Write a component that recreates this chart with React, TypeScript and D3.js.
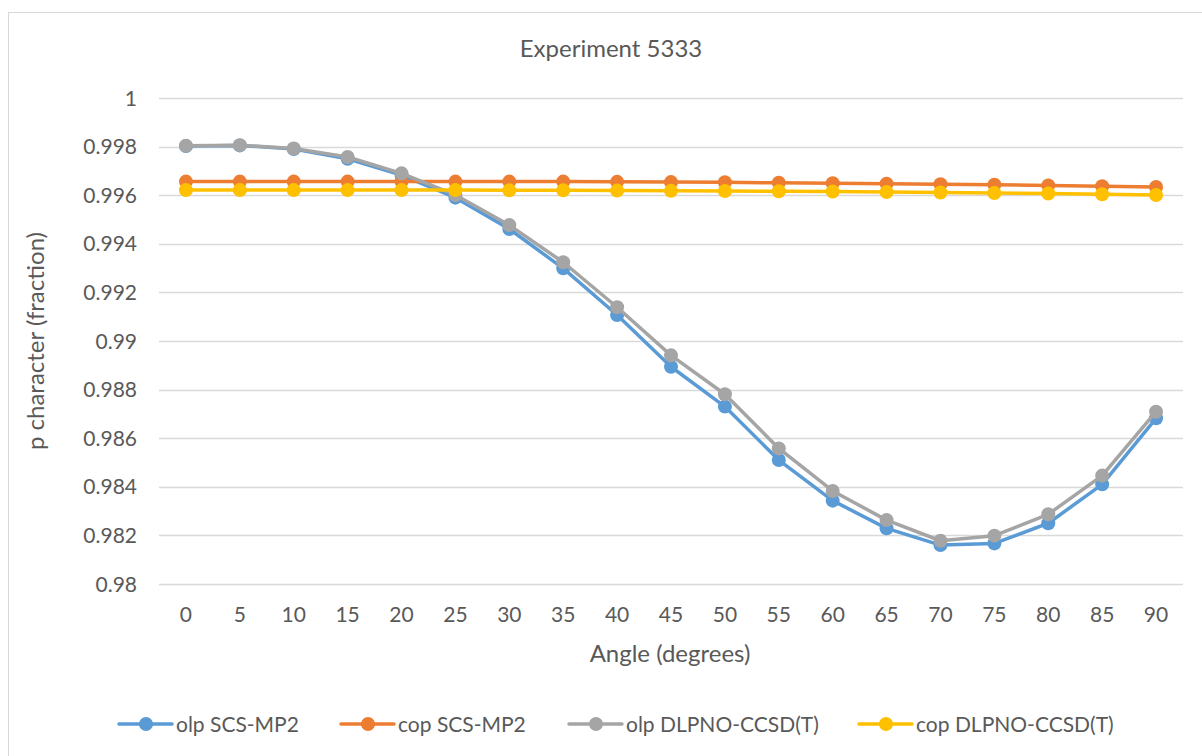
import React from "react";
import * as d3 from "d3";

const angles = [0, 5, 10, 15, 20, 25, 30, 35, 40, 45, 50, 55, 60, 65, 70, 75, 80, 85, 90];
const olpSCS = [0.99802, 0.99805, 0.9979, 0.9975, 0.99683, 0.9959, 0.99461, 0.99299, 0.99107, 0.98894, 0.9873, 0.9851, 0.98343, 0.98229, 0.9816, 0.98167, 0.9825, 0.9841, 0.98682];
const copSCS = [0.99656, 0.99656, 0.99656, 0.99656, 0.99656, 0.99656, 0.99656, 0.99656, 0.99655, 0.99654, 0.99653, 0.99651, 0.99649, 0.99647, 0.99645, 0.99643, 0.9964, 0.99637, 0.99634];
const olpDLPNO = [0.99803, 0.99806, 0.99792, 0.99757, 0.9969, 0.99601, 0.99477, 0.99324, 0.99139, 0.98941, 0.98781, 0.98558, 0.98383, 0.98263, 0.98178, 0.98199, 0.98287, 0.98446, 0.98709];
const copDLPNO = [0.99621, 0.99621, 0.99621, 0.99621, 0.99621, 0.99621, 0.9962, 0.9962, 0.99619, 0.99618, 0.99617, 0.99616, 0.99615, 0.99613, 0.99611, 0.99609, 0.99607, 0.99604, 0.99601];
const yTicks = [0.98, 0.982, 0.984, 0.986, 0.988, 0.99, 0.992, 0.994, 0.996, 0.998, 1];
const seriesNames = ["olp SCS-MP2", "cop SCS-MP2", "olp DLPNO-CCSD(T)", "cop DLPNO-CCSD(T)"];
const seriesColors = ["#5B9BD5", "#ED7D31", "#A5A5A5", "#FFC000"];
const seriesValues = [olpSCS, copSCS, olpDLPNO, copDLPNO];
const title = "Experiment 5333";
const xTitle = "Angle (degrees)";
const yTitle = "p character (fraction)";

const FONT = "Lato, 'Open Sans', sans-serif";
const TEXT = "#595959";

export default function App() {
  const left = 159, right = 1183, top = 98, bottom = 584;
  const x = d3.scaleBand<number>().domain(angles).range([left, right]);
  const cx = (a: number) => (x(a) as number) + x.bandwidth() / 2;
  const y = d3.scaleLinear().domain([0.98, 1]).range([bottom, top]);
  const line = d3.line<number>().x((_, i) => cx(angles[i])).y((v) => y(v));

  const legendX = [119, 341, 569, 859];
  const legendY = 724;

  return (
    <svg width={1202} height={756} style={{ position: "absolute", left: 0, top: 0, background: "#fff" }} fontFamily={FONT}>
      <rect x={0} y={0} width={1202} height={756} fill="#fff" />
      <rect x={8.5} y={12.5} width={1220} height={780} fill="#fff" stroke="#D9D9D9" strokeWidth={1} />
      <text x={611} y={57} textAnchor="middle" fontSize={24} fill={TEXT}>{title}</text>
      {yTicks.map((t) => (
        <g key={t}>
          <line x1={left} x2={right} y1={Math.round(y(t)) + 0.5} y2={Math.round(y(t)) + 0.5} stroke="#D9D9D9" strokeWidth={1.5} />
          <text x={137} y={y(t) + 7.5} textAnchor="end" fontSize={21} fill={TEXT}>{d3.format("~g")(t)}</text>
        </g>
      ))}
      {angles.map((a) => (
        <text key={a} x={cx(a)} y={622} textAnchor="middle" fontSize={21} fill={TEXT}>{a}</text>
      ))}
      <text x={670} y={662} textAnchor="middle" fontSize={24} fill={TEXT}>{xTitle}</text>
      <text transform={`translate(44,${(top + bottom) / 2}) rotate(-90)`} textAnchor="middle" fontSize={24} fill={TEXT}>{yTitle}</text>
      {seriesValues.map((vals, si) => (
        <g key={si}>
          <path d={line(vals) as string} fill="none" stroke={seriesColors[si]} strokeWidth={3.5} strokeLinejoin="round" strokeLinecap="round" />
          {vals.map((v, i) => (
            <circle key={i} cx={cx(angles[i])} cy={y(v)} r={7} fill={seriesColors[si]} />
          ))}
        </g>
      ))}
      {seriesNames.map((n, si) => (
        <g key={n}>
          <line x1={legendX[si]} x2={legendX[si] + 53} y1={legendY} y2={legendY} stroke={seriesColors[si]} strokeWidth={3.5} strokeLinecap="round" />
          <circle cx={legendX[si] + 27} cy={legendY} r={7} fill={seriesColors[si]} />
          <text x={legendX[si] + 57} y={legendY + 7.5} fontSize={21} fill={TEXT}>{n}</text>
        </g>
      ))}
    </svg>
  );
}
